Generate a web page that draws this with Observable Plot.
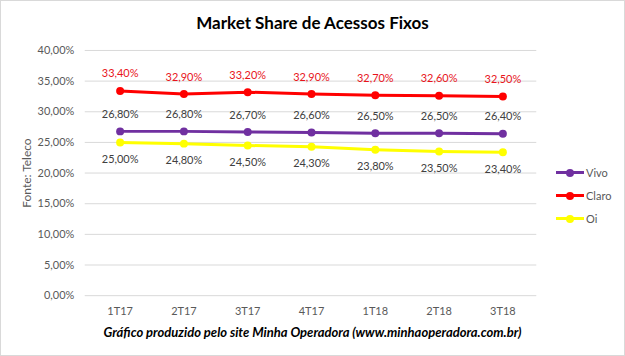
<!DOCTYPE html>
<html>
<head>
<meta charset="utf-8">
<script src="https://cdn.jsdelivr.net/npm/d3@7"></script>
<script src="https://cdn.jsdelivr.net/npm/@observablehq/plot@0.6"></script>
<style>
  html, body { margin: 0; padding: 0; background: #fff; }
  #wrap { position: relative; width: 623px; height: 354px; border: 1px solid #d9d9d9; overflow: hidden; font-family: Lato, "Open Sans", sans-serif; }
  #title { height: 37px; line-height: 44px; text-align: center; font-weight: bold; font-size: 17px; color: #000; }
  #chart svg { display: block; }
  #caption { text-align: center; font-weight: bold; font-style: italic; font-size: 13px; color: #000; line-height: 18px; margin-top: 2px; }
  #legend { position: absolute; left: 555px; top: 160px; font-size: 11px; color: #595959; }
  .li { display: flex; align-items: center; height: 23px; }
  .sw { position: relative; width: 28px; height: 10px; margin-right: 2px; }
  .sw .ln { position: absolute; left: 0; right: 0; top: 3.5px; height: 3px; }
  .sw .dt { position: absolute; left: 10px; top: 1px; width: 8px; height: 8px; border-radius: 50%; }
</style>
</head>
<body>
<div id="wrap">
  <div id="title">Market Share de Acessos Fixos</div>
  <div id="chart"></div>
  <div id="caption">Gráfico produzido pelo site Minha Operadora (www.minhaoperadora.com.br)</div>
  <div id="legend"></div>
</div>
<script>
const quarters = ["1T17", "2T17", "3T17", "4T17", "1T18", "2T18", "3T18"];
const seriesNames = ["Vivo", "Claro", "Oi"];
const vivo  = [26.8, 26.8, 26.7, 26.6, 26.5, 26.5, 26.4];
const claro = [33.4, 32.9, 33.2, 32.9, 32.7, 32.6, 32.5];
const oi    = [25.0, 24.8, 24.5, 24.3, 23.8, 23.5, 23.4];
const yTicks = [0, 5, 10, 15, 20, 25, 30, 35, 40];
const colors = {Vivo: "#7030A0", Claro: "#FF0000", Oi: "#FFFF00"};
const labelColors = {Vivo: "#404040", Claro: "#E8141B", Oi: "#404040"};

const valuesBySeries = {Vivo: vivo, Claro: claro, Oi: oi};
const data = seriesNames.flatMap(s => quarters.map((q, i) => ({series: s, q, v: valuesBySeries[s][i]})));
const fmt = v => v.toFixed(2).replace(".", ",") + "%";
const font = "Lato, 'Open Sans', sans-serif";

const lineMarks = seriesNames.slice().reverse().flatMap(s => [
  Plot.line(data.filter(d => d.series === s), {x: "q", y: "v", stroke: colors[s], strokeWidth: 3}),
  Plot.dot(data.filter(d => d.series === s), {x: "q", y: "v", fill: colors[s], r: 4})
]);

const plot = Plot.plot({
  width: 625,
  height: 284,
  marginLeft: 84,
  marginRight: 88,
  marginTop: 12,
  marginBottom: 26,
  style: {fontFamily: font, fontSize: "11px", color: "#595959", background: "transparent"},
  x: {type: "point", domain: quarters, padding: 0.5},
  y: {domain: [0, 40]},
  marks: [
    Plot.gridY(yTicks, {stroke: "#d9d9d9", strokeOpacity: 1}),
    Plot.axisY(yTicks, {tickSize: 0, tickPadding: 11, tickFormat: fmt, label: null, fill: "#595959"}),
    Plot.axisX({tickSize: 0, tickPadding: 12, label: null, fill: "#595959"}),
    Plot.text(["Fonte: Teleco"], {frameAnchor: "left", textAnchor: "middle", dx: -58, rotate: -90, fontSize: 12, fill: "#595959"}),
    ...lineMarks,
    Plot.text(data.filter(d => d.series === "Claro"), {x: "q", y: "v", text: d => fmt(d.v), dy: -17, fill: labelColors.Claro, fontSize: 11}),
    Plot.text(data.filter(d => d.series === "Vivo"), {x: "q", y: "v", text: d => fmt(d.v), dy: -17, fill: labelColors.Vivo, fontSize: 11}),
    Plot.text(data.filter(d => d.series === "Oi"), {x: "q", y: "v", text: d => fmt(d.v), dy: 17, fill: labelColors.Oi, fontSize: 11})
  ]
});
document.getElementById("chart").appendChild(plot);

const legend = document.getElementById("legend");
for (const s of seriesNames) {
  const li = document.createElement("div");
  li.className = "li";
  li.innerHTML = `<div class="sw"><div class="ln" style="background:${colors[s]}"></div><div class="dt" style="background:${colors[s]}"></div></div><span>${s}</span>`;
  legend.appendChild(li);
}
</script>
</body>
</html>
